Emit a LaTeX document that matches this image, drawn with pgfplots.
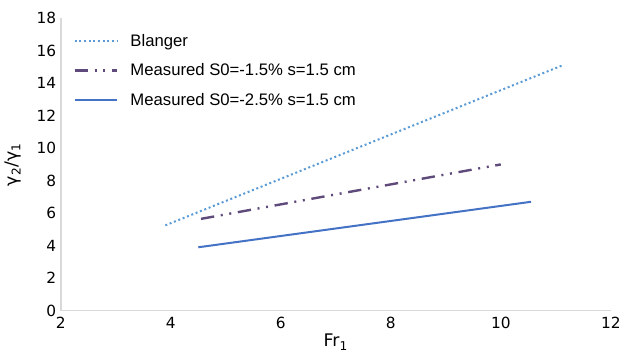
\documentclass[border={0pt 0pt 0pt 6pt}]{standalone}
\usepackage{fontspec}
\setmainfont{Liberation Sans}
\newfontfamily\tickfont{DejaVu Sans}
\usepackage{pgfplots}
\pgfplotsset{compat=1.18}
\definecolor{blangerc}{HTML}{5B9BD5}
\definecolor{purplec}{HTML}{5F4B7B}
\definecolor{bluec}{HTML}{4472C4}
\definecolor{axisgray}{HTML}{D9D9D9}
\begin{document}
\begin{tikzpicture}
\begin{axis}[
  scale only axis,
  width=412pt, height=219pt,
  xmin=2, xmax=12, ymin=0, ymax=18,
  xtick={2,4,...,12}, ytick={0,2,...,18},
  axis x line*=bottom, axis y line*=left,
  axis line style={axisgray, line width=1.2pt},
  x axis line style={-}, y axis line style={-},
  tick style={draw=none},
  /pgf/number format/assume math mode=true,
  tick label style={font=\tickfont\fontsize{11.5}{13}\selectfont},
  xticklabel style={yshift=-1.5pt},
  xlabel={Fr\textsubscript{1}},
  ylabel={γ\textsubscript{2}/γ\textsubscript{1}},
  label style={font=\tickfont\fontsize{13}{15}\selectfont},
  xlabel style={yshift=3pt},
  ylabel style={yshift=5pt},
  legend style={draw=none, fill=none, at={(0.015,0.965)}, anchor=north west,
    font=\fontsize{12.5}{14}\selectfont, row sep=7.5pt, legend cell align=left},
  legend image code/.code={\draw[#1] (0pt,0pt) -- (32pt,0pt); \path (39pt,0pt);},
]
\addplot[blangerc, line width=1.5pt, dotted] coordinates {(3.9,5.25) (11.12,15.1)};
\addlegendentry{Blanger}
\addplot[purplec, line width=1.8pt, dash pattern=on 10pt off 5pt on 1.5pt off 5pt on 1.5pt off 5pt] coordinates {(4.55,5.65) (10.0,9.0)};
\addlegendentry{Measured S0=-1.5\% s=1.5 cm}
\addplot[bluec, line width=1.5pt] coordinates {(4.5,3.9) (10.55,6.7)};
\addlegendentry{Measured S0=-2.5\% s=1.5 cm}
\end{axis}
\end{tikzpicture}
\end{document}
